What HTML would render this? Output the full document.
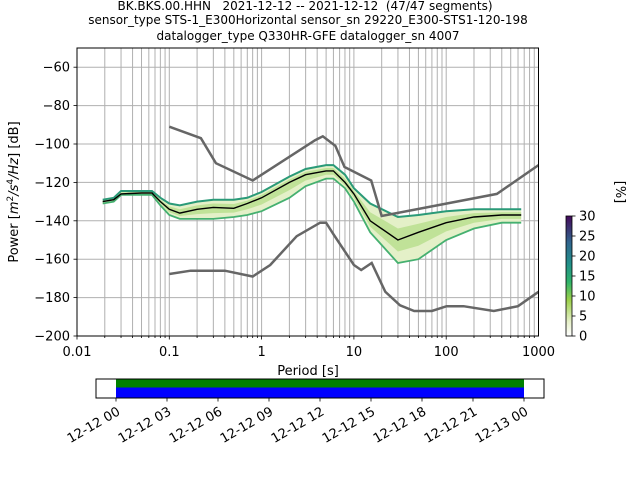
<!DOCTYPE html>
<html><head><meta charset="utf-8"><style>
html,body{margin:0;padding:0;background:#fff}
svg{display:block;font-family:"DejaVu Sans","Liberation Sans",sans-serif}
</style></head><body>
<svg id="chart" width="640" height="480" viewBox="0 0 640 480" xmlns="http://www.w3.org/2000/svg">
<defs>
<linearGradient id="cbg" x1="0" y1="1" x2="0" y2="0">
<stop offset="0" stop-color="#ffffff"/><stop offset="0.12" stop-color="#e6f0c8"/>
<stop offset="0.3" stop-color="#9cd04a"/><stop offset="0.45" stop-color="#2fb36a"/>
<stop offset="0.6" stop-color="#22908a"/><stop offset="0.78" stop-color="#31658e"/>
<stop offset="1" stop-color="#440a5a"/></linearGradient>
</defs>
<g font-size="12" text-anchor="middle" fill="#000" style="white-space:pre">
<text x="305" y="10" xml:space="preserve">BK.BKS.00.HHN   2021-12-12 -- 2021-12-12  (47/47 segments)</text>
<text x="308" y="24">sensor_type STS-1_E300Horizontal sensor_sn 29220_E300-STS1-120-198</text>
<text x="308" y="40">datalogger_type Q330HR-GFE datalogger_sn 4007</text>
</g>
<g id="grid"></g>
<g id="plot"></g>
<rect x="77" y="48" width="461.5" height="288" fill="none" stroke="#000" stroke-width="1"/>
<g id="ticks" font-size="13" fill="#000"></g>
<text x="308" y="375" font-size="13" text-anchor="middle">Period [s]</text>
<text transform="translate(18,192) rotate(-90)" font-size="13" text-anchor="middle">Power [<tspan font-style="italic">m</tspan><tspan dy="-5" font-size="9">2</tspan><tspan dy="5" font-style="italic">/s</tspan><tspan dy="-5" font-size="9">4</tspan><tspan dy="5" font-style="italic">/Hz</tspan>] [dB]</text>
<g>
<rect x="566" y="216" width="6" height="120" fill="url(#cbg)" stroke="#000" stroke-width="0.8"/>
<g id="cbticks" font-size="13"></g>
<text transform="translate(616,192) rotate(90)" font-size="13" text-anchor="middle">[%]</text>
</g>
<g>
<rect x="116" y="379" width="408" height="8.5" fill="#008000"/>
<rect x="116" y="387.5" width="408" height="10" fill="#0000ff"/>
<rect x="96" y="379" width="448" height="19" fill="none" stroke="#000" stroke-width="1"/>
<g id="tticks" font-size="13"></g>
</g>
</svg>
<script>
const periods=[0.019,0.025,0.03,0.05,0.065,0.08,0.1,0.13,0.2,0.3,0.5,0.7,1,2,3,5,6,8,10,15,30,50,100,200,400,650];
const meanDb=[-130,-129,-126,-125.5,-125.5,-130,-134,-136,-134,-133,-133.5,-131,-128,-120,-116,-114,-114,-120,-126,-140,-150,-146,-141,-138,-137,-137];
const upperDb=[-129,-128,-124.5,-124.5,-124.5,-128,-131,-132,-130,-129,-129,-128,-125,-117,-113,-111,-111,-116,-123,-131,-138,-137,-135,-134,-134,-134];
const lowerDb=[-131,-130,-126.5,-126.5,-126.5,-132,-137,-139,-139,-139,-138,-137,-135,-128,-122,-118,-118,-123,-130,-146,-162,-160,-150,-144,-141,-141];
const nhnmP=[0.1,0.22,0.32,0.8,3.8,4.6,6.3,7.9,15.4,20,354,1000];
const nhnmDb=[-91,-97,-110,-119,-98,-96,-101,-112,-119,-137.5,-126,-111];
const nlnmP=[0.1,0.17,0.4,0.8,1.24,2.4,4.3,5,6,10,12,15.6,21.9,31.6,45,70,101,154,328,600,1000];
const nlnmDb=[-167.7,-166,-166,-169,-163,-148,-141,-141,-147,-163,-165.6,-162,-177,-184,-187,-187,-184.5,-184.5,-187,-184.5,-177];
const xTickVals=[0.01,0.1,1,10,100,1000];
const xTickLabels=["0.01","0.1","1","10","100","1000"];
const yTickVals=[-200,-180,-160,-140,-120,-100,-80,-60];
const cbTicks=[0,5,10,15,20,25,30];
const timeLabels=["12-12 00","12-12 03","12-12 06","12-12 09","12-12 12","12-12 15","12-12 18","12-12 21","12-13 00"];

const NS="http://www.w3.org/2000/svg";
const X=p=>77+(Math.log10(p)+2)*92.3;
const Y=d=>48+(-50-d)*1.92;
function mk(tag,attrs,parent){const e=document.createElementNS(NS,tag);for(const k in attrs)e.setAttribute(k,attrs[k]);parent.appendChild(e);return e;}
const grid=document.getElementById('grid'),plot=document.getElementById('plot'),ticks=document.getElementById('ticks');
for(let dec=-2;dec<3;dec++)for(let m=1;m<10;m++){const p=m*Math.pow(10,dec);const x=X(p);
 const l=mk('line',{x1:x,x2:x,y1:48,y2:336,stroke:'#b0b0b0','stroke-width':1},grid);
 
 
 const t=mk('line',{x1:x,x2:x,y1:336,y2:m==1?339.5:338,stroke:'#000','stroke-width':0.8},ticks);
 
 }
yTickVals.forEach(v=>{const y=Y(v);
 const l=mk('line',{x1:77,x2:538.5,y1:y,y2:y,stroke:'#b0b0b0','stroke-width':1},grid);
 
 
 mk('line',{x1:73.5,x2:77,y1:y,y2:y,stroke:'#000','stroke-width':0.8},ticks);
 const t=mk('text',{x:70,y:y+4.5,'text-anchor':'end'},ticks);t.textContent='\u2212'+Math.abs(v);
 
 });
xTickVals.forEach((v,i)=>{const t=mk('text',{x:X(v),y:356,'text-anchor':'middle'},ticks);t.textContent=xTickLabels[i];
 
 });
const pts=line=>line.map(([p,d])=>X(p).toFixed(1)+','+Y(d).toFixed(1)).join(' ');
const up=periods.map((p,i)=>[p,upperDb[i]]),lo=periods.map((p,i)=>[p,lowerDb[i]]);
const band=mk('polygon',{points:pts(up)+' '+pts(lo.slice().reverse()),fill:'#e4f0c8',stroke:'none'},plot);


const mid=periods.map((p,i)=>[p,(upperDb[i]+meanDb[i])/2]),mid2=periods.map((p,i)=>[p,(lowerDb[i]+meanDb[i])/2]);
const core=mk('polygon',{points:pts(mid)+' '+pts(mid2.slice().reverse()),fill:'#a8d878',opacity:0.6},plot);


const ue=mk('polyline',{points:pts(up),fill:'none',stroke:'#2a9a78','stroke-width':2},plot);


const le=mk('polyline',{points:pts(lo),fill:'none',stroke:'#45b070','stroke-width':1.8},plot);


const nh=mk('polyline',{points:pts(nhnmP.map((p,i)=>[p,nhnmDb[i]])),fill:'none',stroke:'#666','stroke-width':2.5},plot);


const nl=mk('polyline',{points:pts(nlnmP.map((p,i)=>[p,nlnmDb[i]])),fill:'none',stroke:'#666','stroke-width':2.5},plot);


const mn=mk('polyline',{points:pts(periods.map((p,i)=>[p,meanDb[i]])),fill:'none',stroke:'#000','stroke-width':1.4},plot);


const cb=document.getElementById('cbticks');
cbTicks.forEach(v=>{const y=336-v/30*120;mk('line',{x1:572,x2:575.5,y1:y,y2:y,stroke:'#000','stroke-width':0.8},cb);
 const t=mk('text',{x:579,y:y+4.5},cb);t.textContent=v;
 
 });
const tt=document.getElementById('tticks');
timeLabels.forEach((s,i)=>{const x=116+i*51;mk('line',{x1:x,x2:x,y1:398,y2:401.5,stroke:'#000','stroke-width':0.8},tt);
 const t=mk('text',{x:0,y:0,'text-anchor':'end',transform:`translate(${x+5},${414}) rotate(-30)`},tt);t.textContent=s;
 
 });
</script>
</body></html>
